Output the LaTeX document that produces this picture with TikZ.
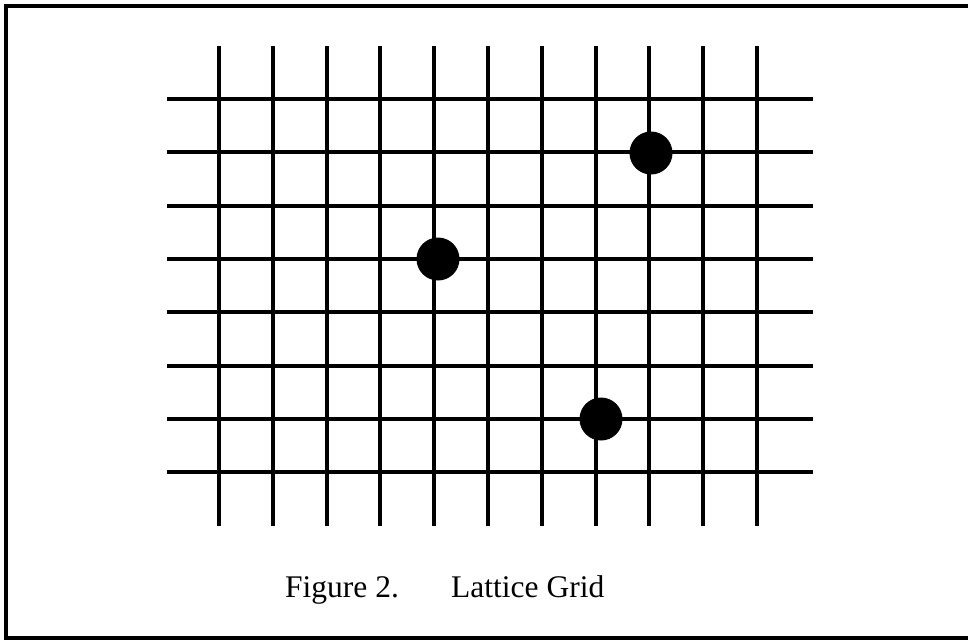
\documentclass[tikz,border=0pt]{standalone}
\usepackage{fontspec}
\setmainfont{Liberation Serif}
\begin{document}
\begin{tikzpicture}[x=1pt,y=-1pt,
  gridline/.style={line width=4pt,black},
  frameline/.style={line width=3.5pt,black},
  dot/.style={circle,fill=black,inner sep=0pt,minimum size=43pt},
  caption/.style={inner sep=0pt,anchor=base west,font=\fontsize{31.5}{36}\selectfont}]
\useasboundingbox (0,0) rectangle (968,641);
% frame (open on the right)
\draw[frameline] (968,6) -- (6,6) -- (6,638) -- (968,638);
% vertical lines
\foreach \i in {0,...,10} {
  \draw[gridline] ({219+53.8*\i},46) -- ({219+53.8*\i},526);
}
% horizontal lines
\foreach \j in {0,...,7} {
  \draw[gridline] (167,{99+53.3*\j}) -- (813,{99+53.3*\j});
}
% dots
\node[dot] (d1) at (651,153) {};
\node[dot] (d2) at (438,259) {};
\node[dot] (d3) at (601,419) {};
% caption
\node[caption] (cap1) at (285,597) {Figure 2.};
\node[caption] (cap2) at (451,597) {Lattice Grid};
\end{tikzpicture}
\end{document}
